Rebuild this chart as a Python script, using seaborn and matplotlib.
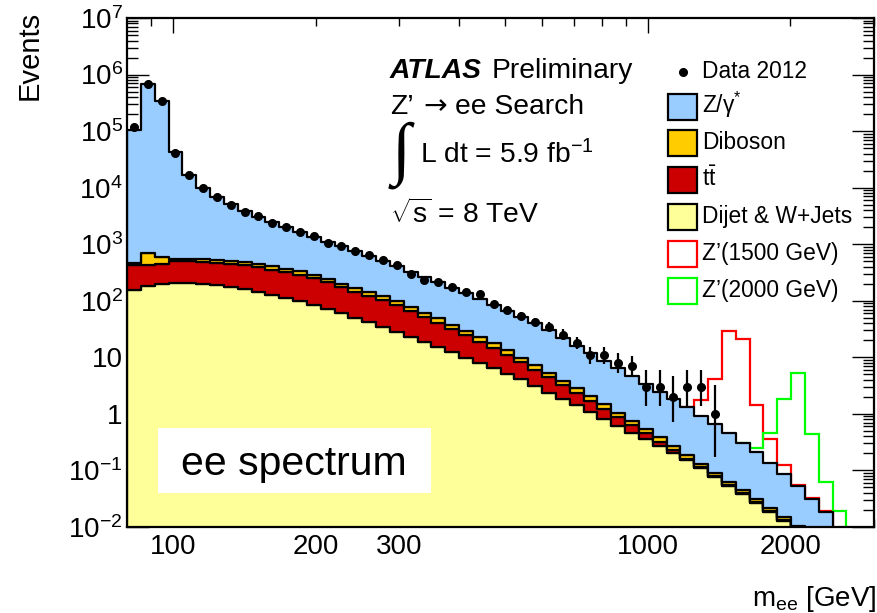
import numpy as np
import pandas as pd
import matplotlib
matplotlib.use("Agg")
import matplotlib.pyplot as plt
from matplotlib.patches import Rectangle
from matplotlib.lines import Line2D
from matplotlib.ticker import FixedLocator, FixedFormatter, NullFormatter
import seaborn as sns
from math import exp, sqrt

# ---------------------------------------------------------------- binning
mass_min, mass_max, n_bins = 80.0, 3000.0, 54
edges = np.geomspace(mass_min, mass_max, n_bins + 1)
centers = np.sqrt(edges[:-1] * edges[1:])

# ---------------------------------------------------------------- data (events per bin)
data_2012 = [120000, 670000, 345000, 41000, 16500, 9900, 6800, 5000, 3760, 3190,
             2370, 2010, 1620, 1380, 1060, 925, 752, 641, 526, 429,
             297, 233, 212, 177, 141, 130, 87, 69, 54, 43,
             35, 25, 18, 11, 11, 8, 7, 3, 3, 2,
             3, 3, 1, 0, 0, 0, 0, 0, 0, 0,
             0, 0, 0, 0]

# ---------------------------------------------------------------- backgrounds
drell_yan = [104200, 675300, 342200, 42110, 16050, 9463, 6314, 4569, 3367, 2643,
             2048, 1623, 1291, 1061, 850, 710, 590, 487, 386.8, 309.3,
             248.7, 201.3, 162, 132, 105.5, 84.1, 67.5, 53.4, 42.7, 33.5,
             24.5, 17.7, 13.03, 9.71, 7.23, 5.33, 3.92, 2.84, 2.09, 1.545,
             1.14, 0.801, 0.570, 0.389, 0.260, 0.178, 0.116, 0.072, 0.0426, 0.0237,
             0.0136, 0.0055, 0.0022, 0.0006]
diboson = [41.5, 280, 141, 54.5, 54.5, 53, 52, 49, 47.5, 44,
           52.6, 47.9, 42.7, 37.2, 31.7, 30.0, 25.2, 21.4, 17.9, 14.5,
           13.1, 10.4, 8.3, 6.4, 5.0, 3.85, 2.96, 2.26, 1.64, 1.21,
           0.90, 0.65, 0.48, 0.34, 0.249, 0.176, 0.128, 0.093, 0.065, 0.046,
           0.030, 0.0157, 0.0108, 0.0075, 0.0053, 0.0037, 0.0026, 0.0018, 0.00125, 0.00086,
           0.0006, 0.0004, 0.00027, 0.00019]
ttbar = [275, 247, 250, 292, 292, 284, 282, 274, 270, 258,
         226, 211.4, 190.7, 168, 143, 111.5, 94.1, 80.8, 68.0, 55.0,
         42.3, 32.7, 25.6, 19.4, 14.7, 11.1, 8.01, 6.01, 4.06, 2.94,
         2.13, 1.40, 0.93, 0.63, 0.417, 0.254, 0.163, 0.102, 0.055, 0.025,
         0.005, 0.0039, 0.0028, 0.0019, 0.0014, 0.0009, 0.0007, 0.0004, 0.0003, 0.0002,
         0.00015, 0.0001, 0.0001, 0.0001]
dijet_wjets = [155, 182, 195, 204, 204, 200, 191, 178, 162, 145,
               128.8, 112.2, 97.7, 83.2, 70.8, 60.3, 50.1, 41.7, 34.3, 28.2,
               22.9, 18.6, 15.1, 12.2, 9.77, 7.94, 6.61, 5.13, 4.07, 3.09,
               2.34, 1.84, 1.41, 1.07, 0.813, 0.617, 0.468, 0.355, 0.269, 0.204,
               0.155, 0.1122, 0.0776, 0.0537, 0.0380, 0.0263, 0.0186, 0.0129, 0.0089, 0.0062,
               0.0042, 0.0028, 0.0019, 0.0013]

# ---------------------------------------------------------------- signals (first bin index, events)
zp1500_first = 40
zp1500 = [0.0, 0.83, 3.43, 29.1, 20.5, 1.23, 0.217, 0.038, 0.003, 0.002, 0.001, 0.0]
zp2000_first = 44
zp2000 = [0.0, 0.037, 0.328, 1.72, 5.15, 0.404, 0.044, 0.0105, 0.0]

# ---------------------------------------------------------------- labels
process_names = ["Z/γ${}^{*}$", "Diboson", r"$\mathrm{t\bar{t}}$", "Dijet & W+Jets"]
process_colors = ["#99ccff", "#ffcc00", "#cc0000", "#ffff99"]
signal_names = ["Z’(1500 GeV)", "Z’(2000 GeV)"]
signal_colors = ["#ff0000", "#00ff00"]
y_tick_values = [1e-2, 1e-1, 1, 10, 1e2, 1e3, 1e4, 1e5, 1e6, 1e7]
y_tick_labels = [r"$10^{-2}$", r"$10^{-1}$", "1", "10", r"$10^{2}$", r"$10^{3}$",
                 r"$10^{4}$", r"$10^{5}$", r"$10^{6}$", r"$10^{7}$"]
x_major = [100, 1000]
x_minor = [90, 200, 300, 400, 500, 600, 700, 800, 900, 2000, 3000]
x_minor_labels = ["", "200", "300", "", "", "", "", "", "", "2000", ""]

# ---------------------------------------------------------------- style
sns.set_style("ticks")
plt.rcParams["font.family"] = ["Liberation Sans", "DejaVu Sans"]
plt.rcParams["mathtext.fontset"] = "custom"
plt.rcParams["mathtext.rm"] = "Liberation Sans"
plt.rcParams["mathtext.it"] = "Liberation Sans:italic"
plt.rcParams["mathtext.bf"] = "Liberation Sans:bold"
plt.rcParams["mathtext.sf"] = "Liberation Sans"
for key in ["text.color", "axes.labelcolor", "axes.edgecolor", "xtick.color", "ytick.color"]:
    plt.rcParams[key] = "black"

W, H = 878, 613
fig = plt.figure(figsize=(W / 100, H / 100), dpi=100)
fig.patch.set_facecolor("white")
ax = fig.add_axes([127 / W, 1 - 527 / H, 747 / W, 509 / H])


def fx(px):
    return px / W


def fy(py):
    return 1 - py / H


# ---------------------------------------------------------------- stacked backgrounds
frames = []
for name, vals in zip(process_names, [drell_yan, diboson, ttbar, dijet_wjets]):
    frames.append(pd.DataFrame({"mass": centers, "events": vals, "process": name}))
bkg = pd.concat(frames, ignore_index=True)

sns.histplot(data=bkg, x="mass", weights="events", hue="process",
             hue_order=process_names, palette=dict(zip(process_names, process_colors)),
             bins=list(edges), multiple="stack", element="step", fill=True, alpha=1,
             edgecolor="black", linewidth=1.6, legend=False, ax=ax)

total_bkg = bkg.groupby("mass", sort=True)["events"].sum().to_numpy()

# ---------------------------------------------------------------- signal + background
for first, sig, col in [(zp1500_first, zp1500, signal_colors[0]),
                        (zp2000_first, zp2000, signal_colors[1])]:
    n = len(sig)
    vals = total_bkg[first:first + n] + np.asarray(sig)
    ax.stairs(vals, edges[first:first + n + 1], baseline=None,
              color=col, linewidth=1.6, zorder=0.9)

# ---------------------------------------------------------------- data with Poisson intervals
def poisson_cdf(n, mu):
    term = exp(-mu)
    s = term
    for i in range(1, n + 1):
        term *= mu / i
        s += term
    return s


def solve_decreasing(f, lo, hi):
    # root of a function that decreases with mu
    for _ in range(80):
        mid = 0.5 * (lo + hi)
        if f(mid) > 0:
            lo = mid
        else:
            hi = mid
    return 0.5 * (lo + hi)


def garwood(n, tail=0.158655):
    if n > 60:
        return sqrt(n), sqrt(n)
    hi_lim = n + 10 * sqrt(n + 1) + 10
    up = solve_decreasing(lambda mu: poisson_cdf(n, mu) - tail, 0.0, hi_lim)
    if n == 0:
        low = 0.0
    else:
        low = solve_decreasing(lambda mu: poisson_cdf(n - 1, mu) - (1 - tail), 0.0, hi_lim)
    return max(n - low, 0.0), max(up - n, 0.0)


counts = np.asarray(data_2012)
mask = counts > 0
errs = np.array([garwood(int(c)) for c in counts[mask]]).T
ax.errorbar(centers[mask], counts[mask], yerr=errs, fmt="o", color="black",
            markersize=5.5, elinewidth=1.6, capsize=0, zorder=10)

# ---------------------------------------------------------------- axes
ax.set_xscale("log")
ax.set_yscale("log")
ax.set_xlim(mass_min, mass_max)
ax.set_ylim(1e-2, 1e7)
ax.set_xlabel("")
ax.set_ylabel("")
ax.set_facecolor("white")
for sp in ax.spines.values():
    sp.set_visible(True)
    sp.set_linewidth(1.6)
    sp.set_color("black")
    sp.set_zorder(20)

ax.xaxis.set_major_locator(FixedLocator(x_major))
ax.xaxis.set_major_formatter(FixedFormatter([str(v) for v in x_major]))
ax.xaxis.set_minor_locator(FixedLocator(x_minor))
ax.xaxis.set_minor_formatter(FixedFormatter(x_minor_labels))
ax.yaxis.set_major_locator(FixedLocator(y_tick_values))
ax.yaxis.set_major_formatter(FixedFormatter(y_tick_labels))
ax.yaxis.set_minor_locator(FixedLocator(
    [m * 10.0 ** e for e in range(-2, 7) for m in range(2, 10)]))
ax.yaxis.set_minor_formatter(NullFormatter())

ax.tick_params(axis="both", which="both", direction="in", top=True, right=True,
               labelsize=20, colors="black", width=1.0, zorder=21)
ax.tick_params(axis="x", which="major", length=11, pad=5)
ax.tick_params(axis="x", which="minor", length=5.5, pad=5)
ax.tick_params(axis="y", which="major", length=16, pad=3)
ax.tick_params(axis="y", which="minor", length=8)

# ---------------------------------------------------------------- axis titles
fig.text(fx(30), fy(11), "Events", rotation=90, ha="center", va="top", fontsize=21)
fig.text(fx(876), fy(606), r"$\mathrm{m_{ee}}$ [GeV]", ha="right", va="baseline",
         fontsize=20)

# ---------------------------------------------------------------- annotations
fig.text(fx(390), fy(78), "ATLAS", fontsize=20.3, fontweight="bold", fontstyle="italic",
         va="baseline")
fig.text(fx(492), fy(78), "Preliminary", fontsize=20.3, va="baseline")
fig.text(fx(390), fy(114), "Z’", fontsize=20.3, va="baseline")
fig.text(fx(435), fy(114), "→", fontsize=20.3, family="DejaVu Sans", ha="center",
         va="baseline")
fig.text(fx(455), fy(114), "ee Search", fontsize=20.3, va="baseline")
fig.text(fx(401), fy(155), "∫", fontsize=50, family="Liberation Serif", ha="center",
         va="center")
fig.text(fx(420), fy(163), "L dt = 5.9 fb$^{-1}$", fontsize=20.3, va="baseline")
fig.text(fx(390), fy(223), r"$\sqrt{\mathrm{s}}$ = 8 TeV", fontsize=20.3, va="baseline")

# white label box in the lower left of the frame
ax.add_patch(Rectangle((0.0415, 0.0668), 0.3655, 0.1277, transform=ax.transAxes,
                       facecolor="white", edgecolor="none", zorder=5))
ax.text(0.2236, 0.102, "ee spectrum", transform=ax.transAxes, ha="center",
        va="baseline", fontsize=29.5, zorder=6)

# ---------------------------------------------------------------- legend
fig.add_artist(Line2D([fx(683)], [fy(72)], marker="o", color="black",
                      markersize=5.5, linestyle="none"))
fig.text(fx(702), fy(78.5), "Data 2012", fontsize=16.4, va="baseline")

row_centers = [106.5, 143.3, 180.2, 217.0, 253.8, 290.6]
entries = list(zip(process_names, process_colors, ["black"] * 4)) + \
    list(zip(signal_names, ["white", "white"], signal_colors))
for (label, face, edge), yc in zip(entries, row_centers):
    fig.add_artist(Rectangle((fx(668.5), fy(yc + 13)), 28.5 / W, 26 / H,
                             transform=fig.transFigure, facecolor=face,
                             edgecolor=edge, linewidth=1.6))
    fig.text(fx(702), fy(yc + 6), label, fontsize=16.4, va="baseline")

fig.savefig("out.png", dpi=100)
